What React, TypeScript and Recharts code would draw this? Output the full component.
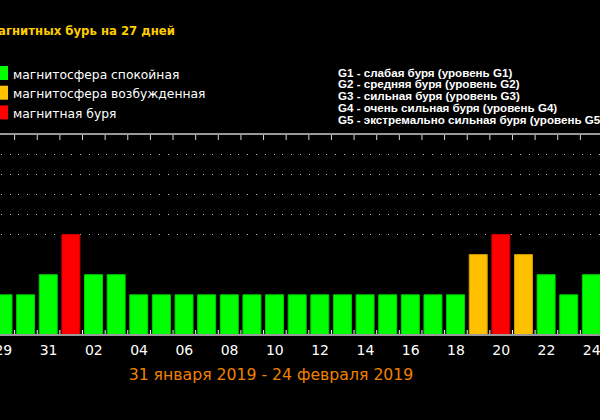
import { Bar, BarChart, CartesianGrid, Cell, ReferenceLine, XAxis, YAxis } from "recharts";

const days = [
  "29", "30", "31", "01", "02", "03", "04", "05", "06", "07", "08", "09", "10", "11",
  "12", "13", "14", "15", "16", "17", "18", "19", "20", "21", "22", "23", "24",
];
const kp = [2, 2, 3, 5, 3, 3, 2, 2, 2, 2, 2, 2, 2, 2, 2, 2, 2, 2, 2, 2, 2, 4, 5, 4, 3, 2, 3];
const gridLevels = [5, 6, 7, 8, 9];
const kpMax = 10;

const legendLeft = [
  { label: "магнитосфера спокойная", color: "#00ff00" },
  { label: "магнитосфера возбужденная", color: "#ffc000" },
  { label: "магнитная буря", color: "#ff0000" },
];
const legendRight = [
  "G1 - слабая буря (уровень G1)",
  "G2 - средняя буря (уровень G2)",
  "G3 - сильная буря (уровень G3)",
  "G4 - очень сильная буря (уровень G4)",
  "G5 - экстремально сильная буря (уровень G5)",
];
const title = "Прогноз магнитных бурь на 27 дней";
const subtitle = "31 января 2019 - 24 февраля 2019";

const data = days.map((day, i) => ({ day, kp: kp[i] }));

const CHART_W = 611;
const PLOT_TOP = 134;

function fillFor(v: number) {
  if (v >= 5) return "#ff0000";
  if (v === 4) return "#ffc000";
  return "#00ff00";
}
function strokeFor(v: number) {
  if (v >= 5) return "#c80000";
  if (v === 4) return "#d09c00";
  return "#00d000";
}

// label every other day + small marks on the day boundaries (top and bottom)
function DayTick({ x, y, payload, index }: any) {
  const half = payload.offset || CHART_W / days.length / 2;
  const edges = [x - half];
  if (index === days.length - 1) edges.push(x + half);
  return (
    <g>
      {edges.map((ex) => (
        <g key={ex}>
          <line x1={ex} x2={ex} y1={y - 5} y2={y - 1} stroke="#ffffff" />
          <line x1={ex} x2={ex} y1={PLOT_TOP + 1} y2={PLOT_TOP + 6} stroke="#d8d8d8" />
        </g>
      ))}
      {index % 2 === 0 && (
        <text
          x={x}
          y={y + 20}
          textAnchor="middle"
          fill="#ffffff"
          fontSize={14}
          fontFamily="DejaVu Sans"
        >
          {payload.value}
        </text>
      )}
    </g>
  );
}

export default function App() {
  return (
    <div
      style={{
        position: "absolute",
        left: 0,
        top: 0,
        width: 600,
        height: 420,
        background: "#000",
        overflow: "hidden",
      }}
    >
      <div style={{ position: "absolute", left: -8, top: 0 }}>
        <BarChart
          width={CHART_W}
          height={420}
          data={data}
          margin={{ top: PLOT_TOP, right: 0, bottom: 55, left: 0 }}
        >
          <CartesianGrid
            vertical={false}
            stroke="#c0c0c0"
            strokeDasharray="1 7.8"
            shapeRendering="crispEdges"
          />
          <YAxis hide domain={[0, kpMax]} ticks={gridLevels} interval={0} />
          <XAxis
            dataKey="day"
            interval={0}
            height={30}
            tickLine={false}
            tickSize={0}
            tickMargin={0}
            axisLine={{ stroke: "#9a9a9a", strokeWidth: 2 }}
            tick={<DayTick />}
          />
          <ReferenceLine y={kpMax} stroke="#999999" strokeWidth={2} />
          <Bar dataKey="kp" barSize={18} isAnimationActive={false}>
            {data.map((d, i) => (
              <Cell key={i} fill={fillFor(d.kp)} stroke={strokeFor(d.kp)} strokeWidth={1} />
            ))}
          </Bar>
        </BarChart>
      </div>
      <svg
        width={600}
        height={420}
        style={{ position: "absolute", left: 0, top: 0, pointerEvents: "none" }}
      >
        <text
          x={175}
          y={35}
          textAnchor="end"
          fill="#ffcc00"
          fontSize={13}
          fontWeight="bold"
          fontFamily="DejaVu Sans Condensed"
        >
          {title}
        </text>
        {legendLeft.map((item, i) => (
          <g key={item.label}>
            <rect x={0} y={66 + i * 19.7} width={8} height={14} fill={item.color} />
            <text
              x={13}
              y={78.5 + i * 19.7}
              fill="#ffffff"
              fontSize={12.3}
              fontFamily="DejaVu Sans"
            >
              {item.label}
            </text>
          </g>
        ))}
        {legendRight.map((line, i) => (
          <text
            key={line}
            x={338}
            y={76.5 + i * 11.8}
            fill="#ffffff"
            fontSize={11.6}
            fontWeight="bold"
            fontFamily="Liberation Sans"
          >
            {line}
          </text>
        ))}
        <text
          x={271}
          y={380}
          textAnchor="middle"
          fill="#f08000"
          fontSize={15.7}
          fontFamily="DejaVu Sans"
        >
          {subtitle}
        </text>
      </svg>
    </div>
  );
}
